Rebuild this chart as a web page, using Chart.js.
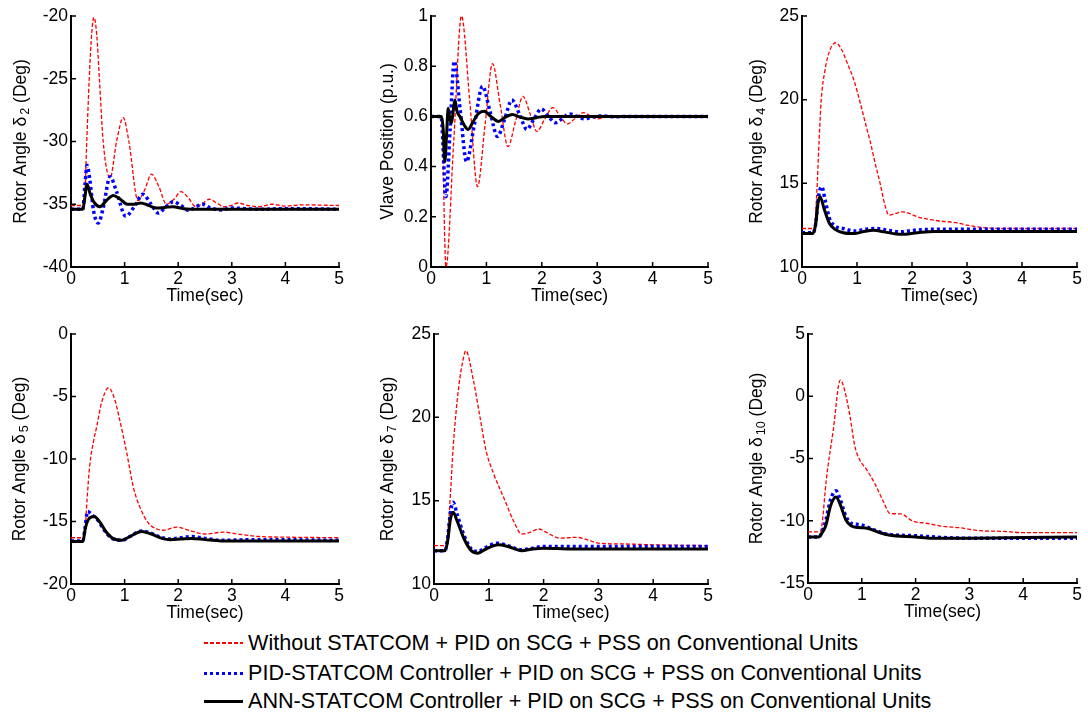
<!DOCTYPE html>
<html>
<head>
<meta charset="utf-8">
<script src="https://cdn.jsdelivr.net/npm/chart.js@4.4.1/dist/chart.umd.min.js"></script>
<style>
  body { margin: 0; background: #fff; }
  #wrap { position: relative; width: 1088px; height: 715px; overflow: hidden; font-family: "Liberation Sans", Arial, sans-serif; }
  #wrap canvas { position: absolute; }
  .leg { position: absolute; left: 204px; height: 28px; display: flex; align-items: center; font-size: 21.6px; color: #000; white-space: nowrap; }
  .leg .sw { width: 39px; margin-right: 5px; }
  .sw.red { height: 1.3px; background: repeating-linear-gradient(90deg, #ff0000 0 4px, transparent 4px 6px); }
  .sw.blue { height: 3px; background: repeating-linear-gradient(90deg, #0000ff 0 3px, transparent 3px 6px); }
  .sw.black { height: 3px; background: #000; }
</style>
</head>
<body>
<div id="wrap">
  <canvas id="p1"></canvas>
  <canvas id="p2"></canvas>
  <canvas id="p3"></canvas>
  <canvas id="p4"></canvas>
  <canvas id="p5"></canvas>
  <canvas id="p6"></canvas>
</div>
<script>
// series names (legend)
const legendLabels = [
  'Without STATCOM + PID on SCG + PSS on Conventional Units',
  'PID-STATCOM Controller + PID on SCG + PSS on Conventional Units',
  'ANN-STATCOM Controller + PID on SCG + PSS on Conventional Units'
];

// y axis titles: text, subscript, rest
const yTitles = [
  ['Rotor Angle δ', '2', ' (Deg)'],
  ['Vlave Position (p.u.)', '', ''],
  ['Rotor Angle δ', '4', ' (Deg)'],
  ['Rotor Angle δ', '5', ' (Deg)'],
  ['Rotor Angle δ', '7', ' (Deg)'],
  ['Rotor Angle δ', '10', ' (Deg)']
];
const yMins  = [-40, 0, 10, -20, 10, -15];
const yMaxs  = [-20, 1, 25, 0, 25, 5];
const ySteps = [5, 0.2, 5, 5, 5, 5];
const xTitle = 'Time(sec)';

// panel 1 : rotor angle delta 2
const redT1 = [0, 0.25, 0.29, 0.34, 0.39, 0.43, 0.48, 0.53, 0.6, 0.73, 0.85, 0.975, 1.08, 1.25, 1.38, 1.5, 1.64, 1.78, 1.92, 2.05, 2.19, 2.33, 2.46, 2.58, 2.72, 2.85, 2.98, 3.12, 3.3, 3.5, 3.75, 4.0, 4.3, 5];
const redY1 = [-35.1, -35.1, -30.5, -25, -21.2, -20.1, -21.5, -25, -30, -32.9, -30, -28.1, -30, -34.7, -33.8, -32.6, -33.6, -35.0, -34.6, -34.0, -34.5, -35.2, -34.9, -34.6, -34.9, -35.2, -35.1, -34.9, -35.1, -35.2, -35.0, -35.15, -35.05, -35.1];
const blueT1 = [0, 0.22, 0.26, 0.30, 0.35, 0.42, 0.51, 0.6, 0.73, 0.85, 1.02, 1.18, 1.34, 1.48, 1.63, 1.77, 1.91, 2.05, 2.2, 2.33, 2.45, 2.6, 2.8, 3.0, 3.5, 4, 5];
const blueY1 = [-35.4, -35.4, -33.5, -31.9, -33.0, -35.5, -36.5, -35.3, -32.8, -34.0, -35.95, -35.2, -34.2, -34.9, -35.7, -35.2, -34.8, -35.1, -35.5, -35.2, -35.0, -35.3, -35.45, -35.3, -35.4, -35.35, -35.4];
const blackT1 = [0, 0.22, 0.26, 0.30, 0.36, 0.44, 0.54, 0.66, 0.79, 0.92, 1.05, 1.18, 1.3, 1.45, 1.6, 1.75, 1.9, 2.1, 2.4, 3, 4, 5];
const blackY1 = [-35.4, -35.4, -34.4, -33.4, -34.2, -34.9, -35.2, -34.7, -34.3, -34.6, -35.0, -35.0, -34.9, -35.1, -35.3, -35.25, -35.2, -35.35, -35.4, -35.4, -35.4, -35.4];

// panel 2 : valve position
const redT2 = [0, 0.19, 0.27, 0.41, 0.55, 0.70, 0.84, 0.975, 1.11, 1.25, 1.39, 1.525, 1.66, 1.79, 1.91, 2.05, 2.20, 2.33, 2.46, 2.6, 2.75, 2.88, 3.0, 3.15, 3.3, 3.6, 4, 5];
const redY2 = [0.6, 0.6, 0.0, 0.5, 1.0, 0.66, 0.32, 0.565, 0.81, 0.645, 0.48, 0.58, 0.68, 0.61, 0.54, 0.588, 0.635, 0.602, 0.57, 0.592, 0.615, 0.602, 0.59, 0.597, 0.603, 0.598, 0.6, 0.6];
const blueT2 = [0, 0.18, 0.27, 0.345, 0.42, 0.53, 0.64, 0.785, 0.93, 1.065, 1.2, 1.33, 1.46, 1.6, 1.73, 1.86, 1.99, 2.12, 2.25, 2.38, 2.5, 2.64, 2.78, 2.9, 3.05, 3.3, 4, 5];
const blueY2 = [0.6, 0.6, 0.28, 0.55, 0.82, 0.62, 0.42, 0.57, 0.72, 0.62, 0.52, 0.59, 0.665, 0.607, 0.548, 0.59, 0.63, 0.6, 0.575, 0.593, 0.61, 0.6, 0.59, 0.597, 0.602, 0.599, 0.6, 0.6];
const blackT2 = [0, 0.19, 0.22, 0.25, 0.28, 0.31, 0.34, 0.37, 0.4, 0.43, 0.47, 0.52, 0.6, 0.67, 0.75, 0.85, 0.96, 1.08, 1.22, 1.35, 1.47, 1.6, 1.75, 1.9, 2.05, 3, 5];
const blackY2 = [0.6, 0.6, 0.55, 0.42, 0.52, 0.632, 0.59, 0.575, 0.62, 0.665, 0.62, 0.6, 0.565, 0.548, 0.575, 0.61, 0.621, 0.6, 0.58, 0.598, 0.608, 0.598, 0.59, 0.595, 0.6, 0.6, 0.6];

// panel 3 : rotor angle delta 4
const redT3 = [0, 0.22, 0.27, 0.31, 0.35, 0.42, 0.5, 0.61, 0.72, 0.82, 0.94, 1.06, 1.16, 1.24, 1.33, 1.42, 1.5, 1.58, 1.7, 1.82, 1.95, 2.1, 2.3, 2.5, 2.8, 3.0, 3.3, 3.7, 5];
const redY3 = [12.3, 12.3, 14.5, 17.5, 20.0, 21.8, 22.9, 23.4, 23.0, 22.2, 21.2, 19.8, 18.5, 17.5, 16.2, 15.0, 13.8, 13.1, 13.2, 13.3, 13.2, 13.0, 12.85, 12.75, 12.65, 12.5, 12.35, 12.3, 12.3];
const blueT3 = [0, 0.2, 0.25, 0.3, 0.36, 0.42, 0.5, 0.6, 0.75, 0.95, 1.15, 1.35, 1.55, 1.8, 2.05, 2.4, 3, 5];
const blueY3 = [12.05, 12.05, 12.6, 14.2, 14.8, 14.0, 12.9, 12.45, 12.3, 12.15, 12.25, 12.3, 12.2, 12.1, 12.2, 12.25, 12.25, 12.25];
const blackT3 = [0, 0.2, 0.25, 0.29, 0.33, 0.4, 0.5, 0.6, 0.75, 0.95, 1.1, 1.3, 1.5, 1.8, 2.1, 2.4, 3, 5];
const blackY3 = [12.0, 12.0, 12.6, 13.8, 14.2, 13.5, 12.6, 12.25, 12.05, 12.0, 12.1, 12.2, 12.1, 11.95, 12.05, 12.12, 12.12, 12.12];

// panel 4 : rotor angle delta 5
const redT4 = [0, 0.23, 0.26, 0.3, 0.35, 0.42, 0.48, 0.57, 0.70, 0.82, 0.91, 1.04, 1.16, 1.29, 1.44, 1.6, 1.72, 1.97, 2.2, 2.5, 2.85, 3.1, 3.5, 4, 5];
const redY4 = [-16.3, -16.3, -15.9, -13.2, -10.5, -8.6, -7.4, -5.5, -4.3, -5.3, -6.9, -9.5, -12.2, -13.9, -15.1, -15.6, -15.7, -15.45, -15.7, -16.0, -15.85, -16.0, -16.2, -16.25, -16.3];
const blueT4 = [0, 0.22, 0.26, 0.31, 0.4, 0.5, 0.62, 0.75, 0.95, 1.1, 1.32, 1.5, 1.7, 1.85, 2.05, 2.25, 2.5, 2.8, 3.5, 5];
const blueY4 = [-16.55, -16.55, -15.6, -14.2, -14.5, -14.9, -15.7, -16.3, -16.5, -16.2, -15.75, -15.95, -16.3, -16.4, -16.3, -16.2, -16.35, -16.5, -16.45, -16.5];
const blackT4 = [0, 0.22, 0.27, 0.33, 0.43, 0.53, 0.65, 0.78, 0.95, 1.1, 1.32, 1.5, 1.7, 1.85, 2.05, 2.25, 2.5, 2.8, 5];
const blackY4 = [-16.6, -16.6, -15.5, -14.8, -14.6, -15.0, -15.8, -16.35, -16.5, -16.2, -15.8, -16.0, -16.35, -16.45, -16.4, -16.35, -16.45, -16.55, -16.55];

// panel 5 : rotor angle delta 7
const redT5 = [0, 0.22, 0.25, 0.3, 0.35, 0.45, 0.54, 0.58, 0.72, 0.84, 0.95, 1.09, 1.27, 1.45, 1.6, 1.75, 1.91, 2.05, 2.3, 2.6, 2.8, 3.0, 3.5, 4, 5];
const redY5 = [12.3, 12.3, 13.0, 15.4, 18.2, 21.8, 23.6, 24.0, 22.2, 20.0, 18.0, 16.6, 15.2, 13.8, 13.0, 13.1, 13.3, 13.1, 12.75, 12.8, 12.65, 12.45, 12.4, 12.35, 12.3];
const blueT5 = [0, 0.2, 0.25, 0.3, 0.35, 0.42, 0.55, 0.68, 0.8, 0.95, 1.15, 1.35, 1.6, 1.8, 2.0, 2.5, 3, 5];
const blueY5 = [12.0, 12.0, 12.8, 14.3, 14.9, 14.2, 12.9, 12.1, 11.95, 12.2, 12.45, 12.3, 12.05, 12.15, 12.25, 12.25, 12.25, 12.25];
const blackT5 = [0, 0.2, 0.25, 0.3, 0.35, 0.42, 0.55, 0.68, 0.8, 0.95, 1.17, 1.35, 1.6, 1.8, 2.0, 2.5, 3, 5];
const blackY5 = [12.0, 12.0, 12.6, 13.9, 14.3, 13.8, 12.7, 12.0, 11.85, 12.1, 12.35, 12.25, 12.0, 12.1, 12.15, 12.1, 12.1, 12.1];

// panel 6 : rotor angle delta 10
const redT6 = [0, 0.22, 0.26, 0.34, 0.47, 0.6, 0.68, 0.78, 0.87, 0.96, 1.09, 1.24, 1.4, 1.52, 1.72, 1.96, 2.2, 2.5, 2.8, 3.2, 3.6, 4, 5];
const redY6 = [-10.9, -10.9, -10.3, -6.7, -2.7, 1.3, 0.5, -1.6, -4.0, -5.1, -5.9, -7.0, -8.45, -9.4, -9.45, -10.05, -10.2, -10.45, -10.55, -10.8, -10.85, -10.95, -10.95];
const blueT6 = [0, 0.2, 0.25, 0.33, 0.42, 0.52, 0.6, 0.7, 0.8, 0.95, 1.1, 1.3, 1.5, 2.0, 2.5, 3, 4, 5];
const blueY6 = [-11.3, -11.3, -11.0, -10.0, -8.3, -7.6, -8.3, -9.6, -10.2, -10.3, -10.5, -10.85, -11.1, -11.2, -11.35, -11.4, -11.4, -11.4];
const blackT6 = [0, 0.2, 0.25, 0.33, 0.42, 0.52, 0.6, 0.7, 0.8, 0.95, 1.1, 1.3, 1.5, 2.0, 2.3, 3, 4, 5];
const blackY6 = [-11.3, -11.3, -11.05, -10.4, -8.8, -8.1, -8.7, -9.9, -10.4, -10.55, -10.6, -10.9, -11.15, -11.3, -11.4, -11.4, -11.35, -11.3];

const panelSeries = [
  [[redT1, redY1], [blueT1, blueY1], [blackT1, blackY1]],
  [[redT2, redY2], [blueT2, blueY2], [blackT2, blackY2]],
  [[redT3, redY3], [blueT3, blueY3], [blackT3, blackY3]],
  [[redT4, redY4], [blueT4, blueY4], [blackT4, blackY4]],
  [[redT5, redY5], [blueT5, blueY5], [blackT5, blackY5]],
  [[redT6, redY6], [blueT6, blueY6], [blackT6, blackY6]]
];

// plot boxes on the page: left, right, top, bottom, centre of y title
const boxes = [
  [71, 339, 16, 267, 21],
  [431, 708, 16, 267, 388],
  [802, 1077, 16, 267, 757],
  [71, 339, 334, 584, 20],
  [434, 708, 334, 584, 388],
  [808, 1077, 334, 583, 757]
];

const FONT = '"Liberation Sans", Arial, sans-serif';
const FSIZE = 17.5;

const lineStyles = [
  { borderColor: '#ff0000', borderWidth: 1.3, borderDash: [4, 2], order: 2 },
  { borderColor: '#0000ff', borderWidth: 3.5, borderDash: [3, 3], order: 1 },
  { borderColor: '#000000', borderWidth: 3, borderDash: [], order: 0 }
];

// matlab style ticks pointing into the plot
const innerTicks = {
  id: 'innerTicks',
  afterDraw(chart) {
    const ctx = chart.ctx, xs = chart.scales.x, ys = chart.scales.y, a = chart.chartArea;
    ctx.save();
    ctx.strokeStyle = '#000';
    ctx.lineWidth = 1.5;
    ctx.beginPath();
    xs.ticks.forEach(t => {
      const px = xs.getPixelForValue(t.value);
      ctx.moveTo(px, a.bottom);
      ctx.lineTo(px, a.bottom - 5);
    });
    ys.ticks.forEach(t => {
      const py = ys.getPixelForValue(t.value);
      ctx.moveTo(a.left, py);
      ctx.lineTo(a.left + 5, py);
    });
    ctx.stroke();
    ctx.restore();
  }
};

// rotated y title with a subscript (delta_n)
const subTitle = {
  id: 'subTitle',
  afterDraw(chart, args, opts) {
    const ctx = chart.ctx, a = chart.chartArea;
    const parts = opts.parts;
    const big = FSIZE + 'px ' + FONT, small = (FSIZE * 0.72) + 'px ' + FONT;
    ctx.save();
    ctx.font = big;
    const w1 = ctx.measureText(parts[0]).width, w3 = ctx.measureText(parts[2]).width;
    ctx.font = small;
    const w2 = parts[1] ? ctx.measureText(parts[1]).width + 2 : 0;
    const total = w1 + w2 + w3;
    ctx.translate(opts.x, (a.top + a.bottom) / 2);
    ctx.rotate(-Math.PI / 2);
    ctx.fillStyle = '#000';
    ctx.textBaseline = 'middle';
    ctx.textAlign = 'left';
    let x = -total / 2;
    ctx.font = big;
    ctx.fillText(parts[0], x, 0);
    x += w1;
    if (parts[1]) {
      ctx.font = small;
      ctx.fillText(parts[1], x + 2, 5);
      x += w2;
    }
    ctx.font = big;
    ctx.fillText(parts[2], x, 0);
    ctx.restore();
  }
};

boxes.forEach((b, i) => {
  const [L, R, T, B, tx] = b;
  const cv = document.getElementById('p' + (i + 1));
  const cLeft = L - 71, cTop = T - 16;
  const w = R - L + 71 + 12, h = B - T + 16 + 40;
  cv.width = w; cv.height = h;
  cv.style.left = cLeft + 'px'; cv.style.top = cTop + 'px';
  const padLeft = tx - cLeft - 10;
  const yWidth = 71 - padLeft;

  const datasets = panelSeries[i].map((s, k) => Object.assign({
    label: legendLabels[k],
    data: s[0].map((x, j) => ({ x: x, y: s[1][j] })),
    pointRadius: 0,
    fill: false,
    cubicInterpolationMode: 'monotone',
    borderCapStyle: 'butt'
  }, lineStyles[k]));

  new Chart(cv, {
    type: 'line',
    data: { datasets: datasets },
    plugins: [innerTicks, subTitle],
    options: {
      responsive: false,
      animation: false,
      layout: { padding: { left: padLeft, top: 16, right: 12, bottom: 0 } },
      plugins: {
        legend: { display: false },
        tooltip: { enabled: false },
        subTitle: { parts: yTitles[i], x: tx - cLeft }
      },
      scales: {
        x: {
          type: 'linear', min: 0, max: 5,
          grid: { display: false, drawTicks: false },
          border: { display: true, color: '#000', width: 2 },
          ticks: { stepSize: 1, padding: 2, color: '#000', font: { family: FONT, size: FSIZE }, maxRotation: 0 },
          title: { display: true, text: xTitle, color: '#000', padding: 0, font: { family: FONT, size: FSIZE } },
          afterFit(s) { s.height = 40; }
        },
        y: {
          min: yMins[i], max: yMaxs[i],
          grid: { display: false, drawTicks: false },
          border: { display: true, color: '#000', width: 2 },
          ticks: {
            stepSize: ySteps[i], padding: 3, color: '#000', font: { family: FONT, size: FSIZE },
            callback: v => String(+v.toFixed(2))
          },
          afterFit(s) { s.width = yWidth; }
        }
      }
    }
  });
});

// legend below the panels
const wrap = document.getElementById('wrap');
const legTops = [629, 659, 687];
const swClass = ['red', 'blue', 'black'];
legendLabels.forEach((txt, k) => {
  const row = document.createElement('div');
  row.className = 'leg';
  row.style.top = legTops[k] + 'px';
  row.innerHTML = '<div class="sw ' + swClass[k] + '"></div><span>' + txt + '</span>';
  wrap.appendChild(row);
});
</script>
</body>
</html>
